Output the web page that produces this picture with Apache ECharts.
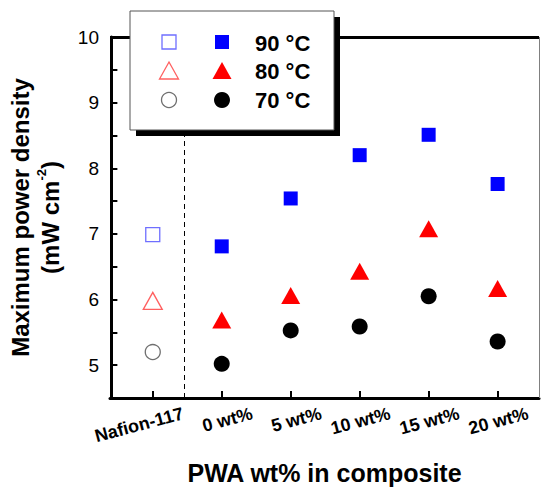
<!DOCTYPE html>
<html>
<head>
<meta charset="utf-8">
<script src="https://cdn.jsdelivr.net/npm/echarts@6/dist/echarts.min.js"></script>
<style>html,body{margin:0;padding:0;background:#fff}#c{width:541px;height:490px}</style>
</head>
<body>
<div id="c"></div>
<script>
// ---- data ----
var categories = ['Nafion-117', '0 wt%', '5 wt%', '10 wt%', '15 wt%', '20 wt%'];
var categoryIndex = [0, 1, 2, 3, 4, 5];
var nafion90 = [6.99];
var nafion80 = [5.98];
var nafion70 = [5.20];
var comp90 = [6.81, 7.54, 8.20, 8.51, 7.76];
var comp80 = [5.69, 6.06, 6.43, 7.08, 6.17];
var comp70 = [5.02, 5.53, 5.59, 6.05, 5.36];
var legendNames = ['90 \u00B0C', '80 \u00B0C', '70 \u00B0C'];

// ---- layout constants ----
var FONT = 'Arial, "Liberation Sans", sans-serif';
var X_MIN = -0.02;       // y axis crosses at x = 0, just inside the left edge
var X0 = 0.6;            // padding before first category
var X_MAX = 6.2;
var Y_MIN = 4.5, Y_MAX = 10;
var DIVIDER = 1.05;      // dashed separator between Nafion and composites
var LABEL_SHIFT = 0.44;

var catX = categoryIndex.map(function (i) { return i + X0; });
function pts(xs, ys) { return ys.map(function (v, i) { return [xs[i], v]; }); }
var compX = catX.slice(1);

var chart = echarts.init(document.getElementById('c'), null, { renderer: 'svg' });
var option = {
  animation: false,
  backgroundColor: '#fff',
  grid: { left: 110, right: 2, top: 37, bottom: 77, show: false },
  xAxis: {
    type: 'value', min: X_MIN, max: X_MAX,
    axisLine: { show: true, lineStyle: { color: '#000', width: 3 } },
    axisTick: { show: true, inside: true, length: 7, customValues: catX, lineStyle: { color: '#000', width: 2 } },
    axisLabel: {
      show: true, customValues: catX.map(function (v) { return v + LABEL_SHIFT; }),
      rotate: 15, align: 'right', verticalAlign: 'middle', margin: 15,
      fontFamily: FONT, fontWeight: 'bold', fontSize: 18, color: '#000',
      formatter: function (v) { return categories[Math.round(v - LABEL_SHIFT - X0)]; }
    },
    splitLine: { show: false },
    name: 'PWA wt% in composite', nameLocation: 'middle', nameGap: 62,
    nameTextStyle: { fontFamily: FONT, fontWeight: 'bold', fontSize: 25, color: '#000' }
  },
  yAxis: {
    type: 'value', min: Y_MIN, max: Y_MAX, interval: 0.5,
    axisLine: { show: true, onZero: true, lineStyle: { color: '#000', width: 3 } },
    axisTick: { show: true, inside: true, length: 6, lineStyle: { color: '#000', width: 2 } },
    axisLabel: {
      show: true, margin: 11, fontFamily: FONT, fontSize: 19, color: '#000',
      formatter: function (v) { return Math.abs(v - Math.round(v)) < 1e-6 ? String(Math.round(v)) : ''; }
    },
    splitLine: { show: false },
    name: '{a|Maximum power density}\n{a|(mW cm}{s|-2}{a|)}',
    nameLocation: 'middle', nameRotate: 90, nameGap: 45,
    nameTextStyle: {
      align: 'center',
      rich: {
        a: { fontFamily: FONT, fontWeight: 'bold', fontSize: 24, color: '#000', lineHeight: 30 },
        s: { fontFamily: FONT, fontWeight: 'bold', fontSize: 13, color: '#000', lineHeight: 30, verticalAlign: 'top', padding: [0, 0, 12, 0] }
      }
    }
  },
  series: [
    { type: 'scatter', name: 'n90', data: pts([catX[0]], nafion90), symbol: 'rect', symbolSize: 14,
      itemStyle: { color: '#fff', borderColor: '#6f6fff', borderWidth: 1.3, opacity: 1 },
      markLine: { silent: true, symbol: 'none', label: { show: false }, z: 3,
        lineStyle: { color: '#000', type: [5, 4], width: 1 },
        data: [
          { xAxis: DIVIDER },
          { xAxis: 0, lineStyle: { color: '#000', type: 'solid', width: 3 } },
          { yAxis: Y_MAX, lineStyle: { color: '#000', type: 'solid', width: 3 } },
          { xAxis: X_MAX, lineStyle: { color: '#808080', type: 'solid', width: 1 } }
        ] } },
    { type: 'scatter', name: 'n80', data: pts([catX[0]], nafion80), symbol: 'triangle', symbolSize: [19, 17],
      itemStyle: { color: '#fff', borderColor: '#ff6060', borderWidth: 1.3, opacity: 1 } },
    { type: 'scatter', name: 'n70', data: pts([catX[0]], nafion70), symbol: 'circle', symbolSize: 15,
      itemStyle: { color: '#fff', borderColor: '#707070', borderWidth: 1.3, opacity: 1 } },
    { type: 'scatter', name: legendNames[0], data: pts(compX, comp90), symbol: 'rect', symbolSize: 14,
      itemStyle: { color: '#0000ff', opacity: 1 } },
    { type: 'scatter', name: legendNames[1], data: pts(compX, comp80), symbol: 'triangle', symbolSize: [19, 17],
      itemStyle: { color: '#ff0000', opacity: 1 } },
    { type: 'scatter', name: legendNames[2], data: pts(compX, comp70), symbol: 'circle', symbolSize: 16,
      itemStyle: { color: '#000', opacity: 1 } }
  ],
  graphic: [
    { type: 'rect', shape: { x: 136, y: 17, width: 204, height: 119 }, style: { fill: '#000' }, z: 100 },
    { type: 'rect', shape: { x: 130, y: 11, width: 204, height: 119 }, style: { fill: '#fff', stroke: '#555', lineWidth: 1 }, z: 101 },
    { type: 'rect', shape: { x: 162, y: 35, width: 14, height: 14 }, style: { fill: '#fff', stroke: '#6f6fff', lineWidth: 1.3 }, z: 102 },
    { type: 'rect', shape: { x: 215, y: 35, width: 14, height: 14 }, style: { fill: '#0000ff' }, z: 102 },
    { type: 'polygon', shape: { points: [[169, 62], [178.5, 79], [159.5, 79]] }, style: { fill: '#fff', stroke: '#ff6060', lineWidth: 1.3 }, z: 102 },
    { type: 'polygon', shape: { points: [[222, 62], [231.5, 79], [212.5, 79]] }, style: { fill: '#ff0000' }, z: 102 },
    { type: 'circle', shape: { cx: 169, cy: 100, r: 7.5 }, style: { fill: '#fff', stroke: '#707070', lineWidth: 1.3 }, z: 102 },
    { type: 'circle', shape: { cx: 222, cy: 100, r: 8 }, style: { fill: '#000' }, z: 102 },
    { type: 'text', x: 255, y: 43, style: { text: legendNames[0], font: 'bold 22px ' + FONT, fill: '#000', textVerticalAlign: 'middle' }, z: 102 },
    { type: 'text', x: 255, y: 71, style: { text: legendNames[1], font: 'bold 22px ' + FONT, fill: '#000', textVerticalAlign: 'middle' }, z: 102 },
    { type: 'text', x: 255, y: 100, style: { text: legendNames[2], font: 'bold 22px ' + FONT, fill: '#000', textVerticalAlign: 'middle' }, z: 102 }
  ]
};
chart.setOption(option);
</script>
</body>
</html>
